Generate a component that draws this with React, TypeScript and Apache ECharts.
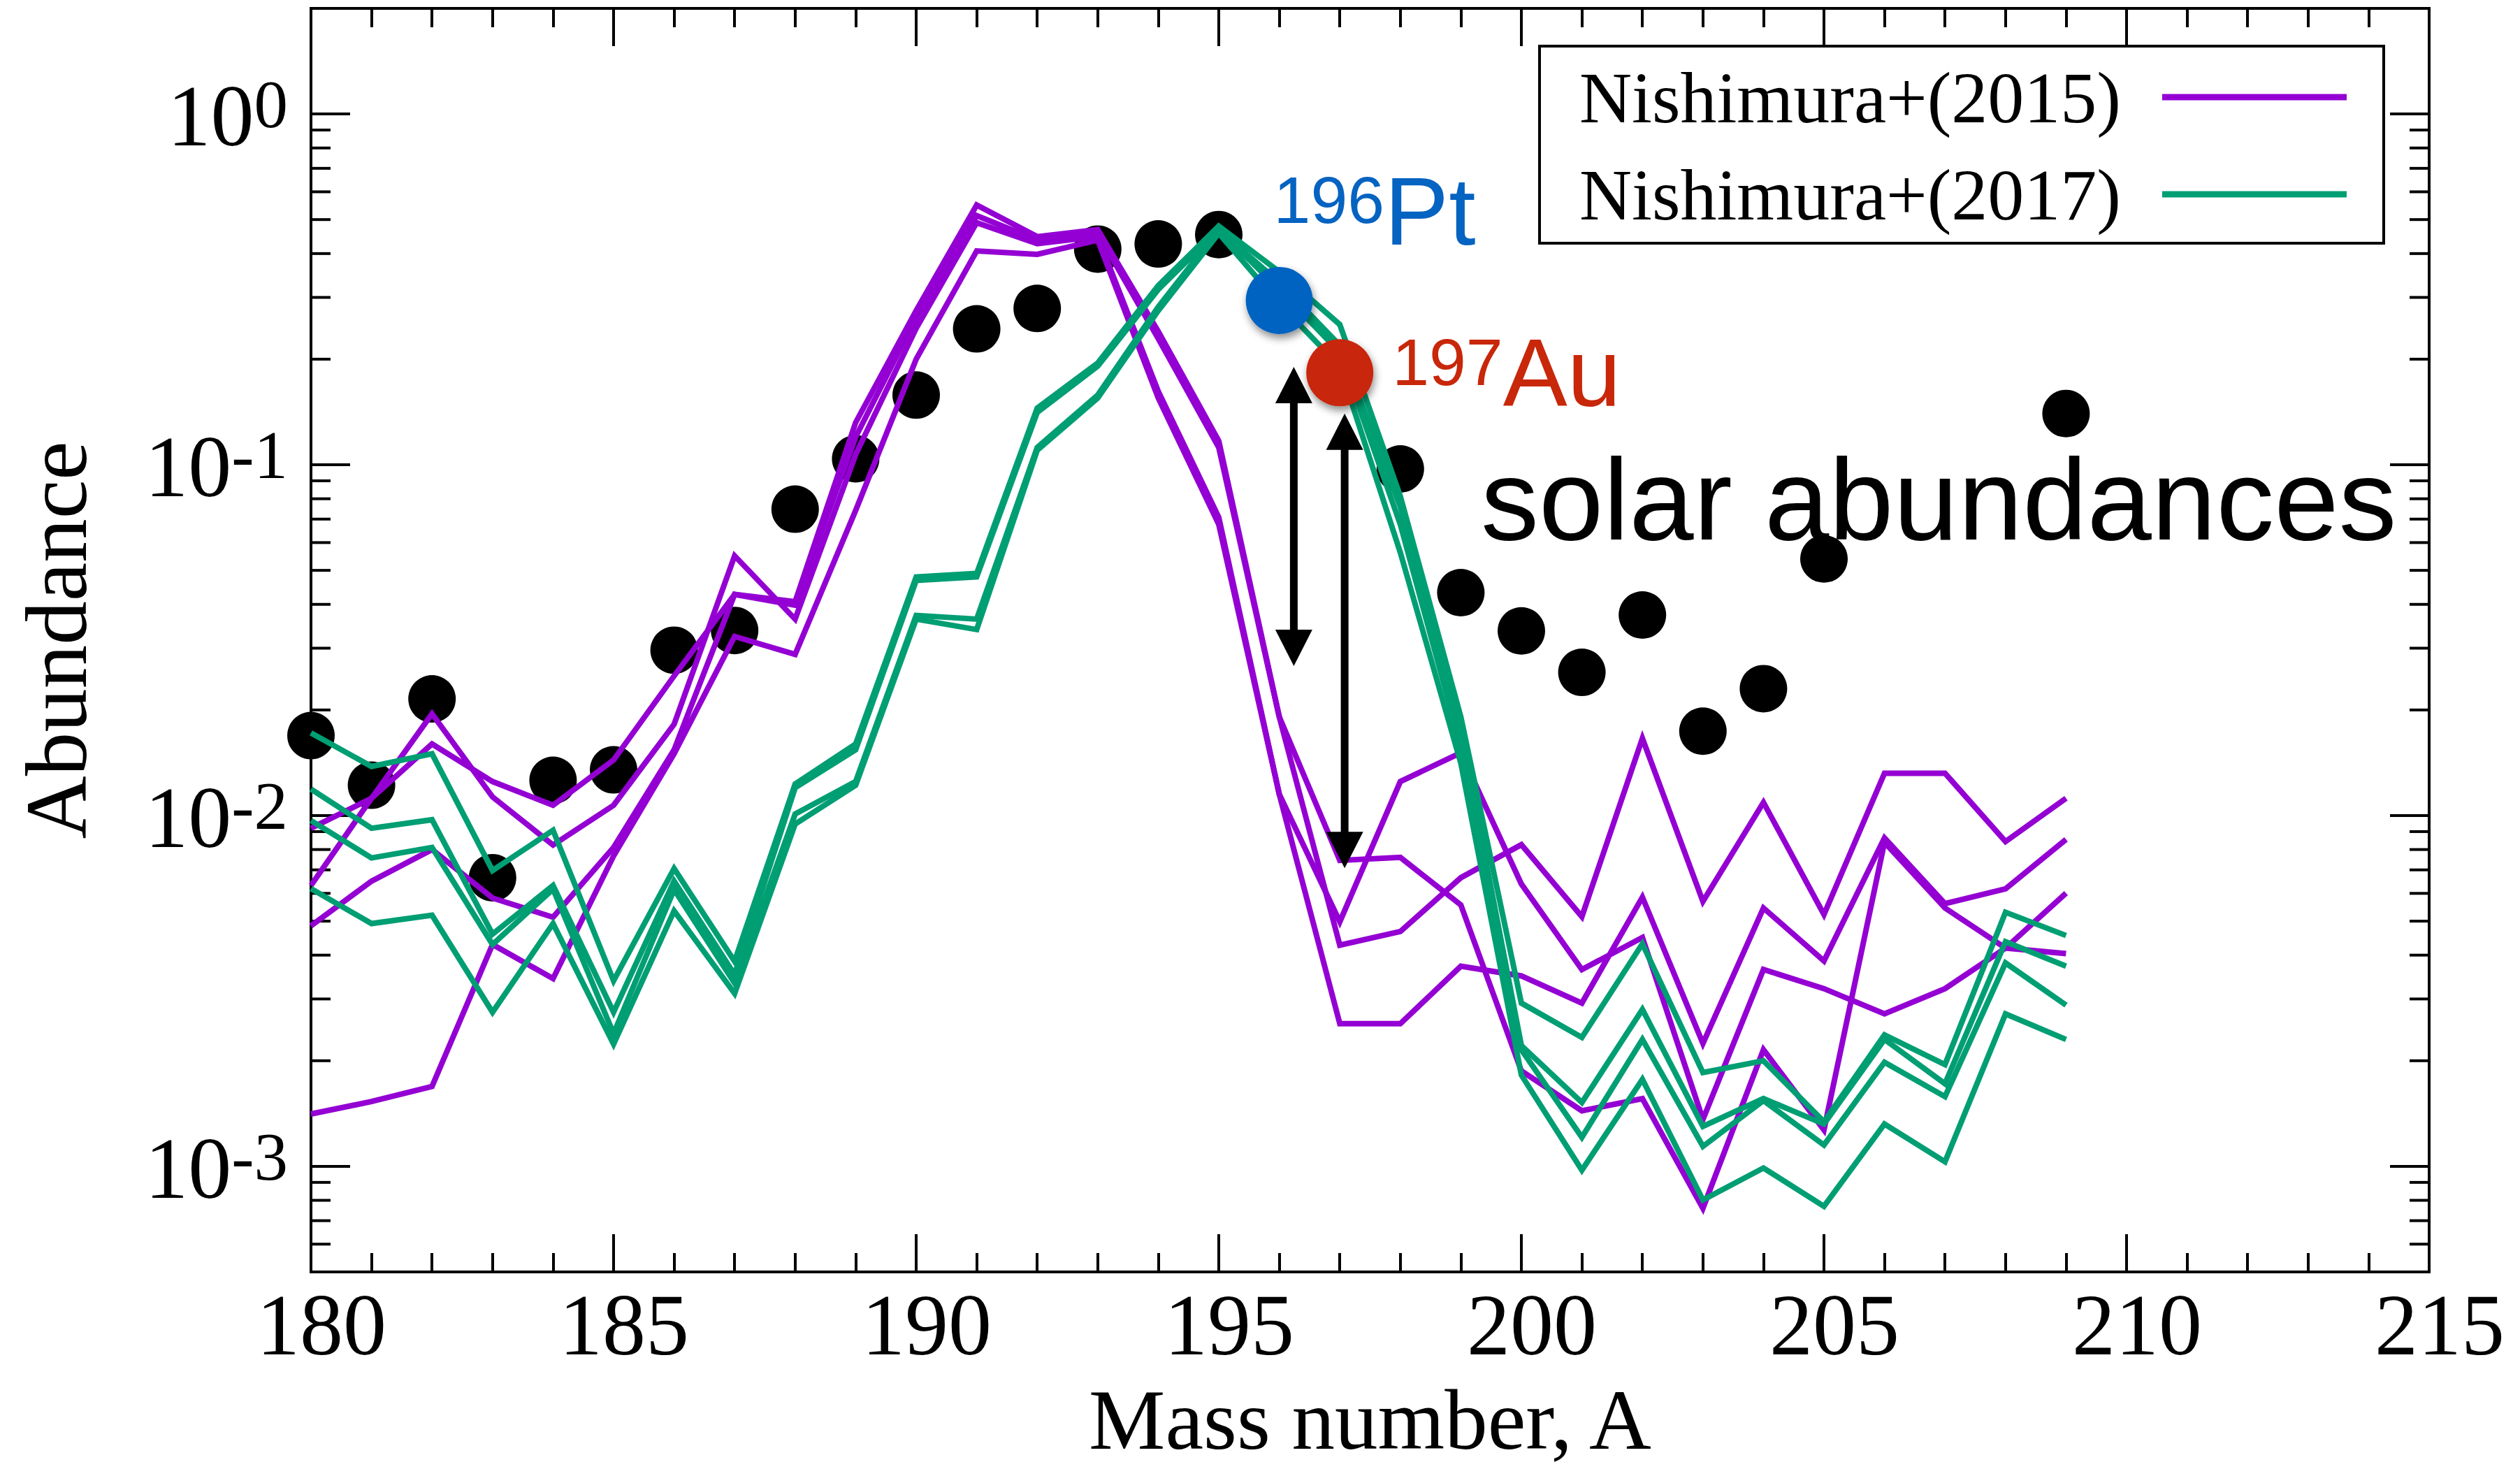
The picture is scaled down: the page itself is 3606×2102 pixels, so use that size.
import { useEffect, useRef } from 'react';
import * as echarts from 'echarts';

const SERIF = "'Liberation Serif', 'Times New Roman', Times, serif";
const SANS = "'Liberation Sans', Arial, Helvetica, sans-serif";

const PURPLE = '#9400D3';
const GREEN = '#009E73';
const PT_BLUE = '#0563C1';
const AU_RED = '#C8270A';

// Mass numbers of the network calculations
const massNumbers = [
  180, 181, 182, 183, 184, 185, 186, 187, 188, 189,
  190, 191, 192, 193, 194, 195, 196, 197, 198, 199,
  200, 201, 202, 203, 204, 205, 206, 207, 208, 209,
];

// Nishimura+(2015) abundance patterns (four runs)
const n2015RunA = [
  0.0092, 0.0112, 0.0195, 0.0113, 0.00824, 0.0107, 0.0182, 0.055, 0.0363, 0.107,
  0.245, 0.49, 0.427, 0.447, 0.162, 0.0708, 0.0115, 0.00498, 0.0125, 0.0151,
  0.00638, 0.00364, 0.00449, 0.00136, 0.00364, 0.00321, 0.00272, 0.00321, 0.00419, 0.00601,
];
const n2015RunB = [
  0.00632, 0.0112, 0.016, 0.0125, 0.0107, 0.0144, 0.025, 0.0427, 0.0407, 0.132,
  0.275, 0.55, 0.447, 0.468, 0.24, 0.117, 0.0191, 0.00745, 0.0076, 0.00556,
  0.00187, 0.00144, 0.00156, 0.000759, 0.00215, 0.00127, 0.00839, 0.00545, 0.00419, 0.00404,
];
const n2015RunC = [
  0.00485, 0.0065, 0.008, 0.00582, 0.00513, 0.00811, 0.0154, 0.0427, 0.0398, 0.12,
  0.263, 0.513, 0.437, 0.457, 0.229, 0.112, 0.0191, 0.00427, 0.00467, 0.00665,
  0.00826, 0.00515, 0.0166, 0.00569, 0.0109, 0.00522, 0.0132, 0.0132, 0.00843, 0.0112,
];
const n2015RunD = [
  0.00141, 0.00153, 0.00169, 0.00429, 0.00343, 0.00767, 0.015, 0.0324, 0.0288, 0.0741,
  0.2, 0.407, 0.398, 0.437, 0.155, 0.0676, 0.0115, 0.00255, 0.00255, 0.00372,
  0.00349, 0.00292, 0.00585, 0.00224, 0.00545, 0.00385, 0.00863, 0.00561, 0.00618, 0.00855,
];

// Nishimura+(2017) abundance patterns (four runs)
const n2017RunA = [
  0.0172, 0.0138, 0.015, 0.00697, 0.00908, 0.00338, 0.00706, 0.00384, 0.0123, 0.016,
  0.0479, 0.049, 0.145, 0.195, 0.324, 0.479, 0.355, 0.251, 0.0813, 0.0191,
  0.00292, 0.00233, 0.00431, 0.00185, 0.002, 0.00134, 0.00237, 0.00195, 0.0053, 0.00455,
];
const n2017RunB = [
  0.0119, 0.0092, 0.00973, 0.00459, 0.00632, 0.00275, 0.0065, 0.00352, 0.012, 0.0154,
  0.0468, 0.0479, 0.141, 0.191, 0.316, 0.468, 0.331, 0.219, 0.0759, 0.0174,
  0.00221, 0.00152, 0.0028, 0.0013, 0.00156, 0.00132, 0.0023, 0.00172, 0.00437, 0.00372,
];
const n2017RunC = [
  0.00968, 0.00757, 0.00811, 0.00429, 0.00617, 0.00239, 0.00615, 0.00333, 0.0101, 0.0125,
  0.0372, 0.0363, 0.112, 0.158, 0.282, 0.468, 0.316, 0.209, 0.0676, 0.0158,
  0.00215, 0.00121, 0.0023, 0.00114, 0.00154, 0.00115, 0.00198, 0.00158, 0.0038, 0.00288,
];
const n2017RunD = [
  0.00619, 0.00492, 0.0052, 0.00275, 0.00492, 0.00223, 0.00535, 0.00311, 0.00946, 0.0122,
  0.0363, 0.0339, 0.11, 0.155, 0.275, 0.457, 0.288, 0.191, 0.0562, 0.0141,
  0.00182, 0.000975, 0.00177, 0.000802, 0.000989, 0.000769, 0.00132, 0.00103, 0.00272, 0.0023,
];

// Solar r-process abundances
const solarMass = [
  180, 181, 182, 183, 184, 185, 186, 187, 188, 189, 190, 191, 192,
  193, 194, 195, 198, 199, 200, 201, 202, 203, 204, 205, 209,
];
const solarAbundance = [
  0.0169, 0.0122, 0.0215, 0.00665, 0.0126, 0.0135, 0.0296, 0.0337, 0.0747, 0.104, 0.158, 0.244, 0.279,
  0.412, 0.426, 0.453, 0.0973, 0.0432, 0.0336, 0.0256, 0.0373, 0.0174, 0.023, 0.0539, 0.14,
];

// Highlighted isotopes
const pt196 = [196, 0.294];
const au197 = [197, 0.183];

// Double-headed arrows: mass position, upper and lower abundance
const arrowMass = [196.24, 197.08];
const arrowUpper = [0.19, 0.14];
const arrowLower = [0.0267, 0.00708];

// Log-axis tick values
const yMajorTicks = [0.001, 0.01, 0.1, 1];
const yMinorTicks = [
  0.0006, 0.0007, 0.0008, 0.0009,
  0.002, 0.003, 0.004, 0.005, 0.006, 0.007, 0.008, 0.009,
  0.02, 0.03, 0.04, 0.05, 0.06, 0.07, 0.08, 0.09,
  0.2, 0.3, 0.4, 0.5, 0.6, 0.7, 0.8, 0.9,
];

const LEGEND_2015 = 'Nishimura+(2015)';
const LEGEND_2017 = 'Nishimura+(2017)';

function runSeries(name: string, color: string, values: number[]) {
  return {
    type: 'line',
    name,
    data: massNumbers.map((m, i) => [m, values[i]]),
    showSymbol: false,
    symbol: 'none',
    silent: true,
    z: 3,
    itemStyle: { color, opacity: 1 },
    lineStyle: { color, width: 8, join: 'miter', opacity: 1 },
    emphasis: { disabled: true },
  };
}

function renderYTick(params: any, api: any) {
  const cs = params.coordSys;
  const p = api.coord([api.value(0), api.value(1)]);
  const len = api.value(2) ? 56 : 28;
  const st = { stroke: '#000', lineWidth: 4 };
  return {
    type: 'group',
    children: [
      { type: 'line', shape: { x1: cs.x, y1: p[1], x2: cs.x + len, y2: p[1] }, style: st },
      { type: 'line', shape: { x1: cs.x + cs.width - len, y1: p[1], x2: cs.x + cs.width, y2: p[1] }, style: st },
    ],
  };
}

function renderArrow(_params: any, api: any) {
  const top = api.coord([api.value(0), api.value(1)]);
  const bot = api.coord([api.value(0), api.value(2)]);
  const hw = 26.5;
  const hl = 52;
  const x = top[0];
  return {
    type: 'group',
    children: [
      { type: 'line', shape: { x1: x, y1: top[1] + hl - 2, x2: x, y2: bot[1] - hl + 2 }, style: { stroke: '#000', lineWidth: 11 } },
      { type: 'polygon', shape: { points: [[x, top[1]], [x - hw, top[1] + hl], [x + hw, top[1] + hl]] }, style: { fill: '#000' } },
      { type: 'polygon', shape: { points: [[x, bot[1]], [x - hw, bot[1] - hl], [x + hw, bot[1] - hl]] }, style: { fill: '#000' } },
    ],
  };
}

function buildOption() {
  const xAxisCommon = {
    type: 'value',
    min: 180,
    max: 215,
    interval: 5,
    gridIndex: 0,
    splitLine: { show: false },
    axisLine: { show: false },
    axisTick: { show: true, inside: true, length: 54, lineStyle: { color: '#000', width: 4 } },
    minorTick: { show: true, splitNumber: 5, length: 27, lineStyle: { color: '#000', width: 4 } },
    minorSplitLine: { show: false },
  };

  const isotopeStyle = {
    opacity: 1,
    shadowBlur: 12,
    shadowColor: 'rgba(0,0,0,0.45)',
    shadowOffsetX: 2,
    shadowOffsetY: 6,
  };

  return {
    animation: false,
    backgroundColor: '#ffffff',
    textStyle: { fontFamily: SERIF, color: '#000' },
    grid: {
      left: 445,
      right: 130,
      top: 12,
      bottom: 282,
      show: true,
      borderColor: '#000',
      borderWidth: 4,
      backgroundColor: 'transparent',
      containLabel: false,
      outerBoundsMode: 'none',
    },
    legend: {
      show: true,
      orient: 'vertical',
      left: 2203,
      top: 66,
      align: 'right',
      padding: [21, 53, 18, 57],
      itemGap: 35,
      itemWidth: 318,
      itemHeight: 9,
      icon: 'path://M0,0L0,9L0.01,9Z M54,0L318,0L318,9L54,9Z',
      borderColor: '#000',
      borderWidth: 4,
      backgroundColor: '#fff',
      selectedMode: false,
      itemStyle: { borderWidth: 0, opacity: 1 },
      textStyle: { fontFamily: SERIF, fontSize: 104, lineHeight: 104, color: '#000' },
      data: [LEGEND_2015, LEGEND_2017],
    },
    xAxis: [
      {
        ...xAxisCommon,
        position: 'bottom',
        name: 'Mass number, A',
        nameLocation: 'middle',
        nameGap: 150,
        nameTextStyle: { fontFamily: SERIF, fontSize: 123, lineHeight: 123, color: '#000' },
        axisLabel: {
          show: true,
          margin: 14,
          fontFamily: SERIF,
          fontSize: 124,
          lineHeight: 124,
          color: '#000',
          padding: [0, 0, 0, 30],
          showMinLabel: true,
          showMaxLabel: true,
        },
      },
      {
        ...xAxisCommon,
        position: 'top',
        axisLabel: { show: false },
      },
    ],
    yAxis: [
      {
        type: 'log',
        logBase: 10,
        min: 0.0005,
        max: 2,
        position: 'left',
        splitLine: { show: false },
        axisLine: { show: false },
        axisTick: { show: false },
        minorTick: { show: false },
        name: 'Abundance',
        nameLocation: 'middle',
        nameRotate: 90,
        nameGap: 302,
        nameTextStyle: { fontFamily: SERIF, fontSize: 125, lineHeight: 125, color: '#000' },
        axisLabel: {
          show: true,
          margin: 33,
          showMinLabel: true,
          showMaxLabel: true,
          formatter: (v: number) => {
            const lg = Math.log10(v);
            const e = Math.round(lg);
            if (Math.abs(lg - e) > 1e-6) return '';
            return `{b|10}{s|${e}}`;
          },
          rich: {
            b: { fontFamily: SERIF, fontSize: 124, lineHeight: 124, color: '#000', padding: [25, 0, 18, 0] },
            s: { fontFamily: SERIF, fontSize: 97, lineHeight: 97, color: '#000', verticalAlign: 'top' },
          },
        },
      },
    ],
    graphic: [
      {
        type: 'text',
        x: 2119,
        y: 714,
        silent: true,
        z: 10,
        style: {
          text: 'solar abundances',
          fontFamily: SANS,
          fontSize: 166,
          fill: '#000',
          align: 'left',
          verticalAlign: 'middle',
        },
      },
    ],
    series: [
      {
        type: 'custom',
        name: 'y ticks',
        renderItem: renderYTick,
        data: [...yMajorTicks.map((v) => [180, v, 1]), ...yMinorTicks.map((v) => [180, v, 0])],
        encode: { x: 0, y: 1 },
        silent: true,
        clip: false,
        z: 1,
      },
      {
        type: 'scatter',
        name: 'solar',
        data: solarMass.map((m, i) => [m, solarAbundance[i]]),
        symbol: 'circle',
        symbolSize: 68,
        itemStyle: { color: '#000', opacity: 1 },
        silent: true,
        z: 2,
      },
      runSeries(LEGEND_2015, PURPLE, n2015RunA),
      runSeries(LEGEND_2015, PURPLE, n2015RunB),
      runSeries(LEGEND_2015, PURPLE, n2015RunC),
      runSeries(LEGEND_2015, PURPLE, n2015RunD),
      runSeries(LEGEND_2017, GREEN, n2017RunA),
      runSeries(LEGEND_2017, GREEN, n2017RunB),
      runSeries(LEGEND_2017, GREEN, n2017RunC),
      runSeries(LEGEND_2017, GREEN, n2017RunD),
      {
        type: 'scatter',
        name: '196Pt',
        data: [pt196],
        symbol: 'circle',
        symbolSize: 96,
        itemStyle: { color: PT_BLUE, ...isotopeStyle },
        silent: true,
        z: 5,
        label: {
          show: true,
          position: 'top',
          align: 'left',
          distance: 11,
          offset: [-8, 0],
          formatter: '{s|196}{m|Pt}',
          rich: {
            s: { fontFamily: SANS, fontSize: 95, lineHeight: 95, color: PT_BLUE, verticalAlign: 'top', padding: [6, 0, 0, 0] },
            m: { fontFamily: SANS, fontSize: 138, lineHeight: 138, color: PT_BLUE },
          },
        },
      },
      {
        type: 'scatter',
        name: '197Au',
        data: [au197],
        symbol: 'circle',
        symbolSize: 96,
        itemStyle: { color: AU_RED, ...isotopeStyle },
        silent: true,
        z: 5,
        label: {
          show: true,
          position: 'right',
          distance: 27,
          formatter: '{s|197}{m|Au}',
          rich: {
            s: { fontFamily: SANS, fontSize: 95, lineHeight: 95, color: AU_RED, verticalAlign: 'top', padding: [6, 0, 0, 0] },
            m: { fontFamily: SANS, fontSize: 138, lineHeight: 138, color: AU_RED },
          },
        },
      },
      {
        type: 'custom',
        name: 'arrows',
        renderItem: renderArrow,
        data: arrowMass.map((m, i) => [m, arrowUpper[i], arrowLower[i]]),
        encode: { x: 0, y: [1, 2] },
        silent: true,
        z: 6,
      },
    ],
  };
}

export default function App() {
  const ref = useRef<HTMLDivElement>(null);

  useEffect(() => {
    if (!ref.current) return;
    const chart = echarts.init(ref.current, undefined, { renderer: 'svg' });
    chart.setOption(buildOption() as any);
    return () => {
      chart.dispose();
    };
  }, []);

  return (
    <div
      ref={ref}
      style={{ position: 'absolute', left: 0, top: 0, width: 3606, height: 2102, background: '#fff' }}
    />
  );
}
